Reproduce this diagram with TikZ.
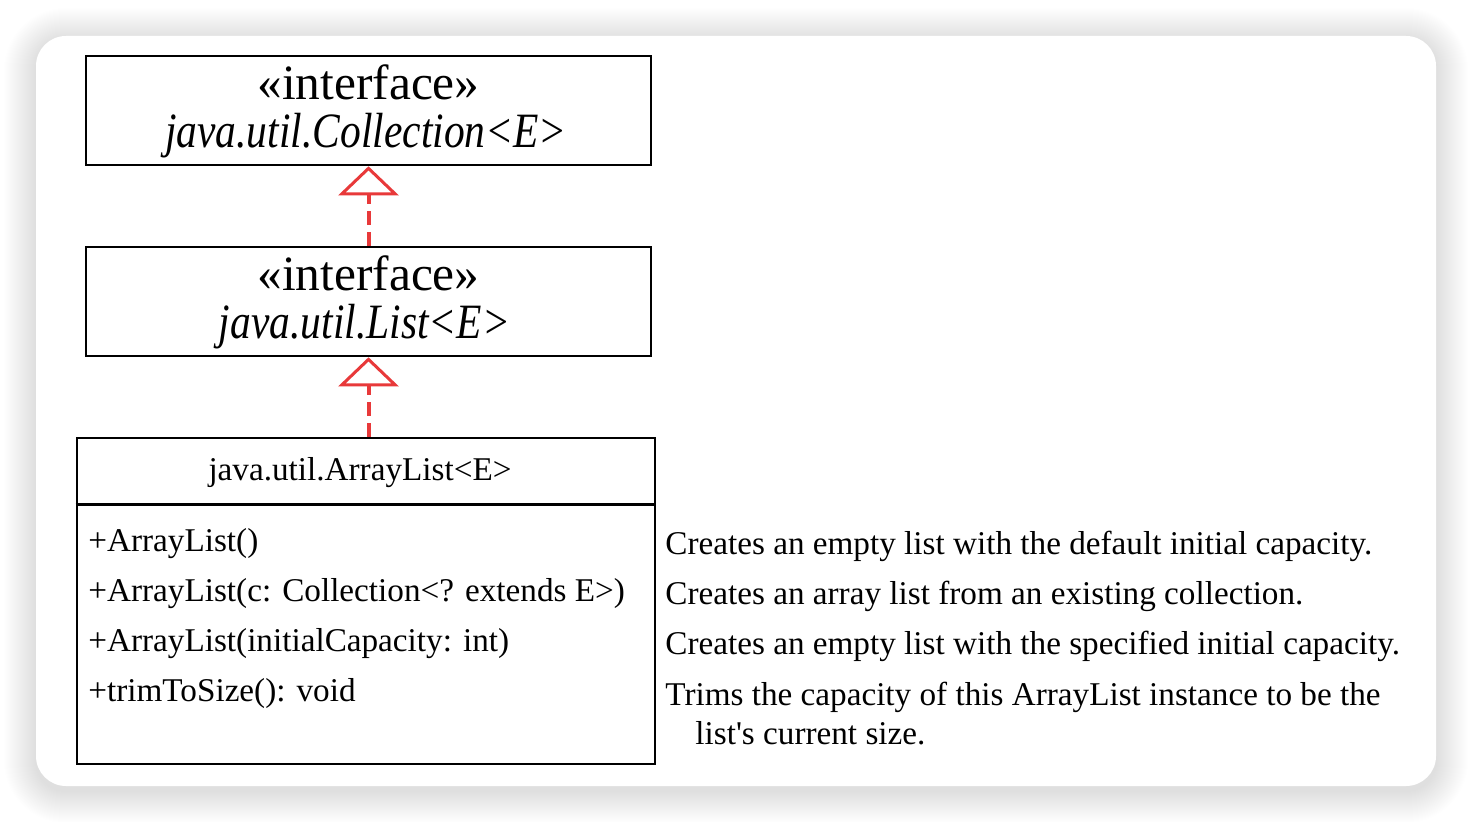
\documentclass[tikz,border=0pt]{standalone}
\usepackage{fontspec}
\setmainfont{Liberation Serif}[Ligatures=TeXOff]
\usetikzlibrary{arrows.meta}
\definecolor{umlred}{HTML}{E8393A}
\begin{document}
\begin{tikzpicture}[x=0.5pt,y=-0.5pt,
  umlbox/.style={draw=black, line width=1.3pt, fill=white, inner sep=0pt},
  bigtxt/.style={font=\fontsize{24.7}{25}\selectfont, inner sep=0pt},
  txt/.style={font=\fontsize{16.6}{20}\selectfont, inner sep=0pt},
  realize/.style={draw=umlred, line width=2pt, dash pattern=on 7pt off 3.5pt,
    -{Triangle[open, length=14.5pt, width=30pt, line width=1.5pt, fill=white]}}
]
\useasboundingbox (0,0) rectangle (1472,822);
% shadow
\foreach \i in {1,...,32} {
  \pgfmathsetmacro\rr{15+\i*0.5}
  \fill[black, opacity=0.003, rounded corners=\rr pt] (36-\i,40-\i) rectangle (1436+\i,791+\i);
}
% card
\fill[white, rounded corners=15pt] (36,36) rectangle (1436,786);

% Collection
\node[umlbox, minimum width=282.5pt, minimum height=54.5pt] (coll) at (368.5,110.5) {};
\node[bigtxt, anchor=base] (collA) at (368.5,100) {«interface»};
\node[bigtxt, anchor=base] (collB) at (366,148) {\scalebox{0.84}[1]{\itshape java.util.Collection<E>}};

% List
\node[umlbox, minimum width=282.5pt, minimum height=54.5pt] (list) at (368.5,301.5) {};
\node[bigtxt, anchor=base] (listA) at (368.5,291) {«interface»};
\node[bigtxt, anchor=base] (listB) at (364.5,339) {\scalebox{0.84}[1]{\itshape java.util.List<E>}};

% ArrayList
\node[umlbox, minimum width=289pt, minimum height=163pt] (al) at (366,601) {};
\path (al.north west) ++(0,68) coordinate (dl);
\draw[line width=1.3pt] (dl) -- (dl -| al.east);
\node[txt, anchor=base] (alT) at (360,481) {java.util.ArrayList<E>};

\node[txt, anchor=base west] (m1) at (88,552) {+ArrayList()};
\node[txt, anchor=base west] (m2) at (88,602) {+ArrayList(c: Collection<? extends E>)};
\node[txt, anchor=base west] (m3) at (88,652) {+ArrayList(initialCapacity: int)};
\node[txt, anchor=base west] (m4) at (88,702) {+trimToSize(): void};

\node[txt, anchor=base west] (d1) at (665,555) {Creates an empty list with the default initial capacity.};
\node[txt, anchor=base west] (d2) at (665,605) {Creates an array list from an existing collection.};
\node[txt, anchor=base west] (d3) at (665,655) {Creates an empty list with the specified initial capacity.};
\node[txt, anchor=base west] (d4) at (665,705) {Trims the capacity of this ArrayList instance to be the};
\node[txt, anchor=base west] (d5) at (695,745) {list's current size.};

% realizations
\draw[realize] (list.north) -- (coll.south);
\draw[realize] (list.south |- al.north) -- (list.south);
\end{tikzpicture}
\end{document}
